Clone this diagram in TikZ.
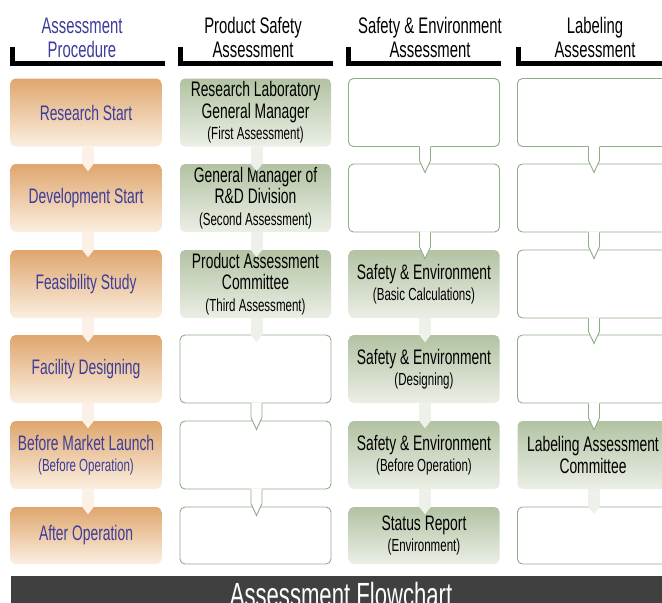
\documentclass[tikz,border=0pt]{standalone}
\usepackage{fontspec}
\setmainfont{Liberation Sans}[FakeStretch=0.66]
\usetikzlibrary{calc}
\definecolor{ornTop}{HTML}{DFA66D}
\definecolor{ornBot}{HTML}{FBEFE1}
\definecolor{grnTop}{HTML}{B2C2A2}
\definecolor{grnBot}{HTML}{EBEFE6}
\definecolor{grnLine}{HTML}{8DAE86}
\definecolor{stripO}{HTML}{FBF1E6}
\definecolor{stripG}{HTML}{EEF1EA}
\definecolor{txtBlue}{HTML}{3C3C9A}
\definecolor{barGray}{HTML}{404040}
\newcommand\subf{\fontsize{17.5}{20}\selectfont}
\newcommand\fstrip[4]{%
  \fill[#3] ($(#1.south)+(#4-6,0)$) rectangle ($(#2.north)+(#4+6,0)$);
  \fill[#3] ($(#2.north)+(#4-6,-0.2)$) -- ($(#2.north)+(#4,7.5)$) -- ($(#2.north)+(#4+6,-0.2)$) -- cycle;}
\newcommand\callout[3]{%
  \fill[white] ($(#1.south)+(#3-5.5,-1)$) -- ($(#2.north)+(#3-5.5,-3)$) -- ($(#2.north)+(#3,9)$) -- ($(#2.north)+(#3+5.5,-3)$) -- ($(#1.south)+(#3+5.5,-1)$) -- cycle;
  \draw[grnLine, line width=0.9pt, line join=miter] ($(#1.south)+(#3-5.5,0)$) -- ($(#2.north)+(#3-5.5,-3)$) -- ($(#2.north)+(#3,9)$) -- ($(#2.north)+(#3+5.5,-3)$) -- ($(#1.south)+(#3+5.5,0)$);}
\begin{document}
\begin{tikzpicture}[x=1pt,y=-1pt,
  box/.style={rounded corners=5pt, minimum width=151pt, inner sep=0pt, align=center, font=\fontsize{21}{21.5}\selectfont},
  obox/.style={box, top color=ornTop, bottom color=ornBot, text=txtBlue},
  gbox/.style={box, top color=grnTop, bottom color=grnBot},
  wbox/.style={box, fill=white, draw=grnLine, line width=0.9pt},
  hdr/.style={align=center, font=\fontsize{22.5}{24}\selectfont, inner sep=0pt},
  tall/.style={minimum height=68pt},
  short/.style={minimum height=57pt}]
\useasboundingbox (0,0) rectangle (662,603);
\clip (0,0) rectangle (662,603);

% headers
\node[hdr, text=txtBlue] (h1) at (82,37.5) {Assessment\\Procedure};
\node[hdr] (h2) at (253,37.5) {Product Safety\\Assessment};
\node[hdr] (h3) at (430,37.5) {Safety \& Environment\\Assessment};
\node[hdr] (h4) at (595,37.5) {Labeling\\Assessment};
\fill (10,47) rectangle (15,66); \fill (10,61) rectangle (165,66);
\fill (178,47) rectangle (183,66); \fill (178,61) rectangle (333,66);
\fill (346,47) rectangle (351,66); \fill (346,61) rectangle (501,66);
\fill (516,47) rectangle (521,66); \fill (516,61) rectangle (662,66);

% column 1
\node[obox, tall] (a1) at (86,112.5) {Research Start};
\node[obox, tall] (a2) at (86,198) {Development Start};
\node[obox, tall] (a3) at (86,284) {Feasibility Study};
\node[obox, tall] (a4) at (86,369) {Facility Designing};
\node[obox, tall] (a5) at (86,455) {Before Market Launch\\{\subf (Before Operation)}};
\node[obox, short] (a6) at (86,535.5) {After Operation};

% column 2
\node[gbox, tall] (b1) at (255.5,112.5) {Research Laboratory\\General Manager\\{\subf (First Assessment)}};
\node[gbox, tall] (b2) at (255.5,198) {General Manager of\\R\&D Division\\{\subf (Second Assessment)}};
\node[gbox, tall] (b3) at (255.5,284) {Product Assessment\\Committee\\{\subf (Third Assessment)}};
\node[wbox, tall] (b4) at (255.5,369) {};
\node[wbox, tall] (b5) at (255.5,455) {};
\node[wbox, short] (b6) at (255.5,535.5) {};

% column 3
\node[wbox, tall] (c1) at (424,112.5) {};
\node[wbox, tall] (c2) at (424,198) {};
\node[gbox, tall] (c3) at (424,284) {Safety \& Environment\\{\subf (Basic Calculations)}};
\node[gbox, tall] (c4) at (424,369) {Safety \& Environment\\{\subf (Designing)}};
\node[gbox, tall] (c5) at (424,455) {Safety \& Environment\\{\subf (Before Operation)}};
\node[gbox, short] (c6) at (424,535.5) {Status Report\\{\subf (Environment)}};

% column 4
\node[wbox, tall] (d1) at (593,112.5) {};
\node[wbox, tall] (d2) at (593,198) {};
\node[wbox, tall] (d3) at (593,284) {};
\node[wbox, tall] (d4) at (593,369) {};
\node[gbox, tall] (d5) at (593,455) {Labeling Assessment\\Committee};
\node[wbox, short] (d6) at (593,535.5) {};

% connectors column 1
\fstrip{a1}{a2}{stripO}{2}
\fstrip{a2}{a3}{stripO}{2}
\fstrip{a3}{a4}{stripO}{2}
\fstrip{a4}{a5}{stripO}{2}
\fstrip{a5}{a6}{stripO}{2}
% column 2
\fstrip{b1}{b2}{stripG}{1}
\fstrip{b2}{b3}{stripG}{1}
\fstrip{b3}{b4}{stripG}{1}
\callout{b4}{b5}{1}
\callout{b5}{b6}{1}
% column 3
\callout{c1}{c2}{1}
\callout{c2}{c3}{1}
\fstrip{c3}{c4}{stripG}{1}
\fstrip{c4}{c5}{stripG}{1}
\fstrip{c5}{c6}{stripG}{1}
% column 4
\callout{d1}{d2}{1}
\callout{d2}{d3}{1}
\callout{d3}{d4}{1}
\callout{d4}{d5}{1}
\fstrip{d5}{d6}{stripG}{1}

% title bar
\node[fill=barGray, minimum width=651pt, minimum height=34pt, inner sep=0pt, anchor=north west] (bar) at (11,576) {};
\node[font=\fontsize{33.5}{33.5}\selectfont, text=white, anchor=base, inner sep=0pt] (title) at (341,606.5) {Assessment Flowchart};
\end{tikzpicture}
\end{document}
